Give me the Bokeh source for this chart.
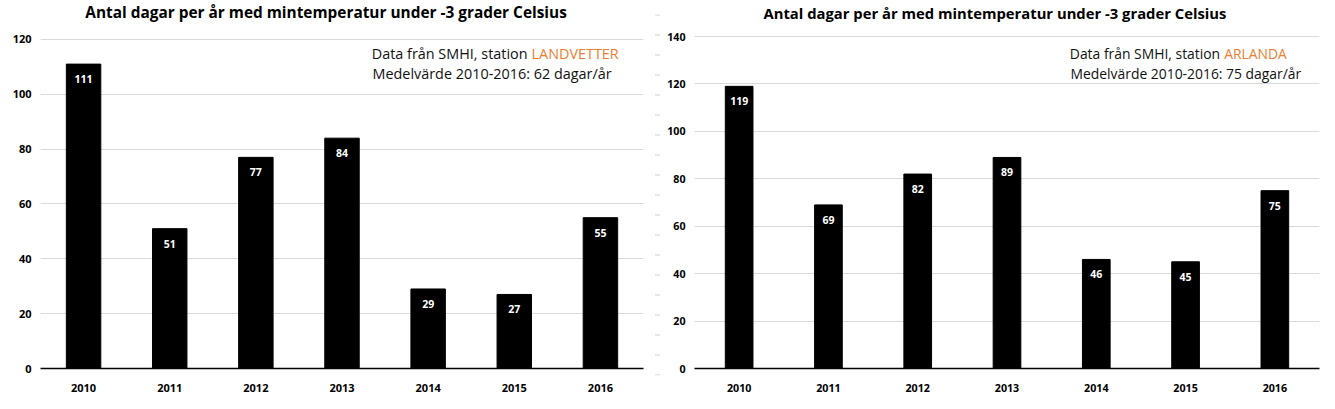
from bokeh.plotting import figure
from bokeh.models import FactorRange, Range1d, LabelSet, ColumnDataSource, Label, Span, FixedTicker
from bokeh.core.properties import value
from bokeh.layouts import row
from bokeh.embed import file_html
from bokeh.resources import INLINE

years = ["2010", "2011", "2012", "2013", "2014", "2015", "2016"]
landvetter = [111, 51, 77, 84, 29, 27, 55]
arlanda = [119, 69, 82, 89, 46, 45, 75]
title_text = "Antal dagar per år med mintemperatur under -3 grader Celsius"
left_ticks = [0, 20, 40, 60, 80, 100, 120]
right_ticks = [0, 20, 40, 60, 80, 100, 120, 140]
left_station = "LANDVETTER"
right_station = "ARLANDA"
left_mean = 62
right_mean = 75

FONT = "Open Sans"
ORANGE = "#ED7D31"


def make_panel(values, ytop, ticks, station, mean, width, height, mbl, mbr, mbb,
               bar_w, tick_size, title_size, title_x, title_y,
               txt_x, orange_x, y1, y2, txt_size):
    src = ColumnDataSource(dict(x=years, top=values, label=[str(v) for v in values]))
    p = figure(x_range=FactorRange(factors=years, range_padding=0),
               y_range=Range1d(0, ytop), width=width, height=height,
               output_backend="svg", toolbar_location=None,
               min_border_left=mbl, min_border_right=mbr,
               min_border_top=0, min_border_bottom=mbb, frame_align=False)
    p.vbar(x="x", top="top", width=bar_w, source=src, fill_color="black", line_color="black")
    p.add_layout(LabelSet(x="x", y="top", text="label", source=src, y_offset=-15,
                          text_align="center", text_baseline="middle",
                          text_color="white", text_font=value(FONT), text_font_style="bold",
                          text_font_size="10.5px"))

    p.outline_line_color = None
    p.background_fill_color = "white"
    p.border_fill_color = "white"
    p.xgrid.grid_line_color = None
    p.ygrid.grid_line_color = "#d9d9d9"
    p.ygrid.grid_line_width = 1.2
    p.yaxis.ticker = FixedTicker(ticks=ticks)
    p.yaxis.axis_line_color = None
    p.yaxis.major_tick_line_color = None
    p.yaxis.minor_tick_line_color = None
    p.yaxis.major_tick_out = 0
    p.yaxis.major_tick_in = 0
    p.yaxis.major_label_standoff = 9
    p.xaxis.axis_line_color = "black"
    p.xaxis.axis_line_width = 1.5
    p.xaxis.major_tick_line_color = None
    p.xaxis.minor_tick_line_color = None
    p.xaxis.major_label_standoff = 9
    for ax in (p.xaxis, p.yaxis):
        ax.major_label_text_font = FONT
        ax.major_label_text_font_style = "bold"
        ax.major_label_text_font_size = tick_size
        ax.major_label_text_color = "black"

    p.add_layout(Label(x=title_x, y=title_y, text=title_text, text_font=FONT,
                       text_font_style="bold", text_font_size=title_size,
                       text_baseline="middle", text_color="black"))
    p.add_layout(Label(x=orange_x, y=y1, x_offset=-4, text="Data från SMHI, station",
                       text_font=FONT, text_align="right",
                       text_font_size=txt_size, text_baseline="middle", text_color="#111111"))
    p.add_layout(Label(x=orange_x, y=y1, text=station, text_font=FONT,
                       text_font_size=txt_size, text_baseline="middle", text_color=ORANGE))
    p.add_layout(Label(x=txt_x, y=y2, text=f"Medelvärde 2010-2016: {mean} dagar/år",
                       text_font=FONT, text_font_size=txt_size, text_baseline="middle",
                       text_color="#111111"))
    return p


left = make_panel(landvetter, 134.2, left_ticks, left_station, left_mean,
                  650, 400, 40, 7, 32, 0.4, "11px", "15.4px", 0.52, 129.7,
                  3.854, 5.70, 114.9, 107.6, "14.4px")
right = make_panel(arlanda, 155.2, right_ticks, right_station, right_mean,
                   661, 400, 27, 6, 32, 0.31, "10.7px", "14.8px", 0.773, 149.9,
                   4.211, 5.932, 132.9, 124.6, "13.9px")

sep = figure(width=14, height=400, x_range=Range1d(0, 1), y_range=Range1d(0, 1),
             output_backend="svg", toolbar_location=None, frame_align=False,
             min_border_left=0, min_border_right=0, min_border_top=14, min_border_bottom=25)
sep.axis.visible = False
sep.grid.visible = False
sep.outline_line_color = None
sep.add_layout(Span(location=0.5, dimension="height", line_color="#d0d0d0",
                    line_width=5, line_dash="1 19"))

layout = row(left, sep, right)
open("out.html", "w").write(file_html(layout, INLINE))
